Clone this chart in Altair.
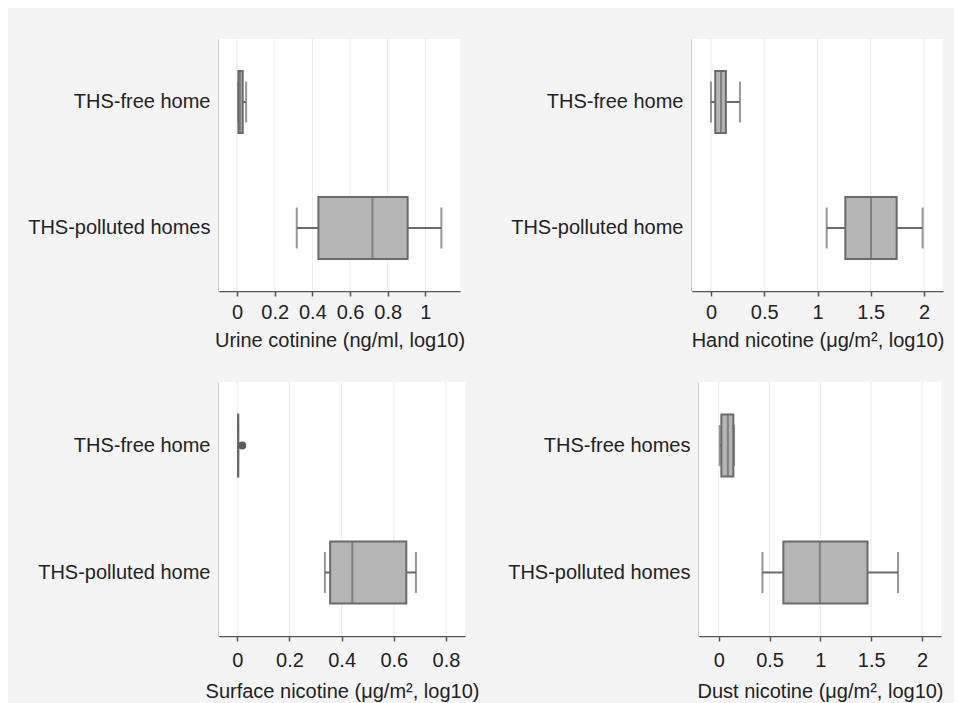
import altair as alt
import pandas as pd

# ---- data ----
titles = [
    "Urine cotinine (ng/ml, log10)",
    "Hand nicotine (\u03bcg/m\u00b2, log10)",
    "Surface nicotine (\u03bcg/m\u00b2, log10)",
    "Dust nicotine (\u03bcg/m\u00b2, log10)",
]

urine_groups = ["THS-free home", "THS-polluted homes"]
urine_lower = [0.007, 0.317]
urine_q1 = [0.007, 0.432]
urine_median = [0.015, 0.719]
urine_q3 = [0.030, 0.906]
urine_upper = [0.048, 1.085]
urine_ticks = [0, 0.2, 0.4, 0.6, 0.8, 1]

hand_groups = ["THS-free home", "THS-polluted home"]
hand_lower = [0.0, 1.086]
hand_q1 = [0.040, 1.261]
hand_median = [0.094, 1.502]
hand_q3 = [0.140, 1.743]
hand_upper = [0.272, 1.987]
hand_ticks = [0, 0.5, 1, 1.5, 2]

surface_groups = ["THS-free home", "THS-polluted home"]
surface_lower = [0.003, 0.336]
surface_q1 = [0.003, 0.356]
surface_median = [0.003, 0.441]
surface_q3 = [0.004, 0.648]
surface_upper = [0.003, 0.685]
surface_outlier_group = ["THS-free home"]
surface_outlier = [0.019]
surface_ticks = [0, 0.2, 0.4, 0.6, 0.8]

dust_groups = ["THS-free homes", "THS-polluted homes"]
dust_lower = [0.010, 0.430]
dust_q1 = [0.026, 0.636]
dust_median = [0.090, 0.995]
dust_q3 = [0.144, 1.464]
dust_upper = [0.151, 1.764]
dust_ticks = [0, 0.5, 1, 1.5, 2]

FONT = "Liberation Sans"
BOX_FILL = "#b5b5b5"
LINE = "#6a6a6a"
AXIS = "#555555"
TEXT = "#222222"
GRID = "#ebebeb"


def panel(groups, lo, q1, med, q3, hi, title, ticks, domain, w, h,
          lab_pad, title_pad, out_groups=None, out_vals=None):
    df = pd.DataFrame({"g": groups, "lo": lo, "q1": q1, "med": med,
                       "q3": q3, "hi": hi})
    gdf = pd.DataFrame({"t": ticks})
    xscale = alt.Scale(domain=domain, nice=False, zero=False)
    yenc = alt.Y("g:N", sort=groups,
                 scale=alt.Scale(paddingInner=0, paddingOuter=0),
                 axis=alt.Axis(title=None, ticks=False, grid=False,
                               domain=True, domainColor=AXIS, domainWidth=1.5,
                               labelFontSize=20, labelPadding=9,
                               labelLimit=400,
                               labelColor=TEXT, labelFont=FONT))
    xaxis = alt.Axis(title=title, values=ticks, format="~g", grid=False,
                     tickSize=5, tickColor=AXIS, tickWidth=1.5,
                     domainColor=AXIS, domainWidth=1.5, labelFontSize=20,
                     labelPadding=lab_pad, labelColor=TEXT, labelFont=FONT,
                     titleFont=FONT, titleFontSize=20,
                     titleFontWeight="normal", titleColor=TEXT,
                     titlePadding=title_pad, labelFlush=False)
    base = alt.Chart(df)
    bg = base.mark_rect(fill="white", stroke=None).encode(
        x=alt.value(0), x2=alt.value(w), y=alt.value(0), y2=alt.value(h))
    grid = alt.Chart(gdf).mark_rule(color=GRID, strokeWidth=1).encode(
        x=alt.X("t:Q", scale=xscale, axis=xaxis))
    whisk = base.mark_rule(color=LINE, strokeWidth=2).encode(
        x=alt.X("lo:Q", scale=xscale), x2="hi:Q", y=yenc)
    caps_lo = base.mark_tick(color=LINE, size=41, thickness=2).encode(
        x=alt.X("lo:Q", scale=xscale), y=alt.Y("g:N", sort=groups))
    caps_hi = base.mark_tick(color=LINE, size=41, thickness=2).encode(
        x=alt.X("hi:Q", scale=xscale), y=alt.Y("g:N", sort=groups))
    box = base.mark_bar(size=62, fill=BOX_FILL, stroke=LINE,
                        strokeWidth=2).encode(
        x=alt.X("q1:Q", scale=xscale), x2="q3:Q",
        y=alt.Y("g:N", sort=groups))
    medl = base.mark_tick(color=LINE, size=62, thickness=2).encode(
        x=alt.X("med:Q", scale=xscale), y=alt.Y("g:N", sort=groups))
    layers = [bg, grid, whisk, caps_lo, caps_hi, box, medl]
    if out_groups:
        odf = pd.DataFrame({"g": out_groups, "v": out_vals})
        pts = alt.Chart(odf).mark_circle(size=64, color="#5a5a5a",
                                         opacity=1).encode(
            x=alt.X("v:Q", scale=xscale), y=alt.Y("g:N", sort=groups))
        layers.append(pts)
    return alt.layer(*layers).properties(width=w, height=h)


p1 = panel(urine_groups, urine_lower, urine_q1, urine_median, urine_q3,
           urine_upper, titles[0], urine_ticks, [-0.096, 1.184], 241, 252,
           6, 8)
p2 = panel(hand_groups, hand_lower, hand_q1, hand_median, hand_q3,
           hand_upper, titles[1], hand_ticks, [-0.178, 2.178], 251, 252,
           6, 8)
p3 = panel(surface_groups, surface_lower, surface_q1, surface_median,
           surface_q3, surface_upper, titles[2], surface_ticks,
           [-0.07, 0.873], 246, 254, 9, 11,
           surface_outlier_group, surface_outlier)
p4 = panel(dust_groups, dust_lower, dust_q1, dust_median, dust_q3,
           dust_upper, titles[3], dust_ticks, [-0.194, 2.187], 242, 254,
           9, 11)

top = alt.hconcat(p1, p2, spacing=45)
bottom = alt.hconcat(p3, p4, spacing=28)
chart = alt.concat(top, bottom, columns=1, spacing=31, align="none",
                   bounds="full").properties(
    background="#f4f4f4",
    padding={"left": 19, "top": 30, "right": 10, "bottom": 6},
).configure(font=FONT).configure_view(fill="white", strokeWidth=0)

chart.save("out.html", embed_options={"renderer": "svg", "actions": False})
